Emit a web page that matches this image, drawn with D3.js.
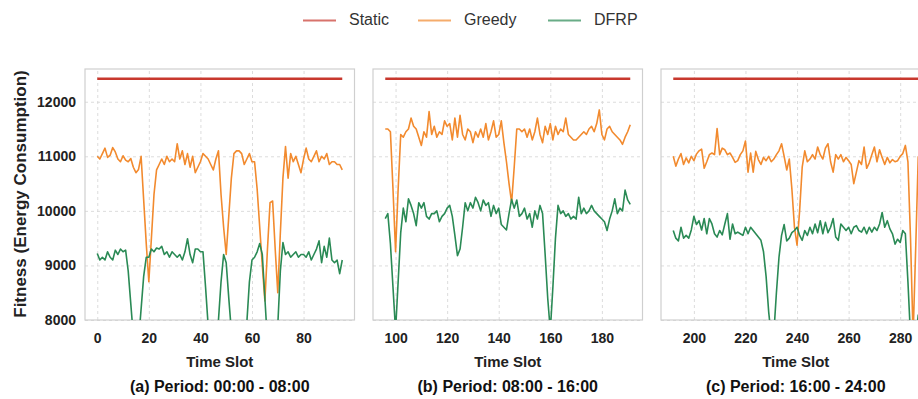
<!DOCTYPE html>
<html>
<head>
<meta charset="utf-8">
<script src="https://cdn.jsdelivr.net/npm/d3@7/dist/d3.min.js"></script>
<style>
  html, body { margin: 0; padding: 0; background: #ffffff; }
  svg { display: block; font-family: "Liberation Sans", Arial, sans-serif; }
</style>
</head>
<body>
<svg id="chart" width="918" height="399"></svg>
<script>
// ---------------- DATA ----------------
const seriesNames = ["Static", "Greedy", "DFRP"];
const periodCaptions = ["(a) Period: 00:00 - 08:00", "(b) Period: 08:00 - 16:00", "(c) Period: 16:00 - 24:00"];
const periodStartSlot = [0, 96, 192];
const xTickValues = [[0, 20, 40, 60, 80], [100, 120, 140, 160, 180], [200, 220, 240, 260, 280]];
const yTickValues = [8000, 9000, 10000, 11000, 12000];
const staticLevel = [12420, 12420, 12420];

const greedyA = [
  11000, 10950, 11050, 11150, 10980, 11020, 11160, 11080, 10950, 10900,
  11010, 10930, 10900, 10960, 10800, 10700, 10760, 11000, 10200, 9400,
  8700, 9500, 10300, 10750, 10850, 10950, 10850, 11000, 10900, 10950,
  10900, 11230, 10950, 11100, 10850, 11050, 10800, 11000, 10700, 10800,
  10900, 11050, 11000, 10950, 10850, 10750, 10950, 11100, 10300, 9700,
  9200, 9900, 10600, 11050, 11100, 11100, 11050, 10850, 10950, 11050,
  10900, 10900, 10400, 9700, 9000, 8350, 9300, 10150, 10180, 9300,
  8500, 9600, 10600, 11180, 10600, 11050, 10900, 11000, 10850, 10700,
  10950, 11150, 10950, 10900, 11000, 11100, 10900, 11000, 10950, 11050,
  10850, 10900, 10900, 10850, 10850, 10750
];
const dfrpA = [
  9220, 9100, 9150, 9100, 9250, 9150, 9100, 9280, 9200, 9300,
  9250, 9280, 8900, 8300, 7700, 7400, 7600, 8200, 8800, 9150,
  9150, 9300, 9250, 9320, 9300, 9350, 9200, 9250, 9150, 9250,
  9200, 9150, 9200, 9100, 9250, 9490, 9200, 9050, 9300, 9300,
  9250, 9250, 8600, 7900, 7400, 7300, 7400, 8000, 8700, 9200,
  9050, 8400, 7800, 7400, 7300, 7300, 7400, 7600, 7950, 8700,
  9100, 9150, 9250, 9400, 9200, 8400, 7600, 7300, 7300, 7500,
  7900, 8900, 9420, 9200, 9250, 9150, 9200, 9250, 9150, 9200,
  9200, 9150, 9250, 9100, 9200, 9300, 9450, 9050, 9350, 9150,
  9500, 9100, 9050, 9100, 8850, 9100
];
const greedyB = [
  11500, 11500, 11450, 10400, 9250, 10400, 11400, 11350, 11450, 11500,
  11700, 11550, 11500, 11350, 11200, 11450, 11350, 11820, 11400, 11550,
  11350, 11450, 11400, 11650, 11550, 11600, 11300, 11700, 11350, 11750,
  11400, 11300, 11500, 11450, 11250, 11450, 11350, 11500, 11350, 11600,
  11300, 11450, 11650, 11350, 11400, 11650, 11250, 10900, 10500, 10150,
  10800, 11500, 11500, 11450, 11500, 11350, 11500, 11300, 11450, 11700,
  11400, 11250, 11550, 11400, 11600, 11300, 11550, 11400, 11500, 11450,
  11700, 11400, 11350, 11300, 11300, 11350, 11400, 11450, 11400, 11500,
  11550, 11450, 11600, 11850, 11400, 11300, 11500, 11550, 11450, 11400,
  11350, 11300, 11220, 11350, 11450, 11580
];
const dfrpB = [
  9860, 9950, 9400, 8600, 7800, 8700, 9600, 10050, 9800, 10220,
  10100, 9950, 9730, 10150, 10050, 10150, 9900, 9850, 9950, 9950,
  10000, 9800, 9900, 9950, 10050, 10100, 9900, 9550, 9180, 9300,
  9700, 10150, 10000, 10150, 10050, 10250, 10150, 10000, 10200, 10100,
  10150, 9900, 10100, 9950, 10050, 9750, 9700, 9650, 9950, 10210,
  10050, 10200, 9900, 9950, 10050, 9850, 9950, 9700, 10000, 9850,
  10100, 9950, 9200, 8400, 7800, 8600, 9500, 10100, 9950, 10000,
  9900, 9950, 9850, 9900, 9850, 10250, 9950, 10050, 9950, 10000,
  10100, 10000, 9950, 9900, 9850, 9800, 9640, 9850, 10000, 10220,
  9950, 10050, 10000, 10380, 10200, 10120
];
const greedyC = [
  11000, 10820, 10950, 11050, 10850, 10970, 10880, 11000, 10920, 11040,
  11100, 11130, 10780, 10900, 11030, 11060, 11030, 11510, 11030, 11150,
  11120, 11030, 11060, 10980, 10890, 10920, 11030, 11100, 11280, 10710,
  11060, 10710, 11090, 10940, 10850, 10980, 10920, 11000, 10900, 10950,
  11030, 11100, 11230, 11000, 10750, 10950, 10400, 9700, 9370, 10000,
  10800, 11100, 10900, 10950, 11030, 10950, 11170, 11030, 10950, 11150,
  11230, 10900, 10710, 11030, 10950, 11030, 10900, 10980, 10920, 10850,
  10500, 10710, 10920, 10850, 11170, 10780, 10880, 11030, 11170, 10900,
  11120, 10980, 10850, 10980, 10880, 10940, 10900, 10920, 11000, 11050,
  11200, 10900, 9500, 7700, 9300, 11000
];
const dfrpC = [
  9640, 9500, 9450, 9700, 9500, 9550, 9500, 9650, 9900, 9750,
  9820, 9650, 9860, 9580, 9860, 9760, 9580, 9520, 9640, 9560,
  9760, 9950, 9480, 9760, 9580, 9610, 9580, 9550, 9700, 9580,
  9700, 9640, 9580, 9520, 9460, 9250, 8800, 8150, 7700, 7750,
  8500, 9150, 9550, 9750, 9450, 9500, 9600, 9640, 9700, 9550,
  9460, 9640, 9550, 9700, 9580, 9760, 9600, 9820, 9580, 9790,
  9600, 9700, 9860, 9520, 9460, 9760, 9700, 9640, 9700, 9580,
  9700, 9730, 9640, 9610, 9700, 9580, 9700, 9610, 9700, 9640,
  9760, 9970, 9700, 9820, 9670, 9580, 9390, 9480, 9420, 9640,
  9580, 8700, 7700, 7400, 7600, 8100
];
const greedySeries = [greedyA, greedyB, greedyC];
const dfrpSeries = [dfrpA, dfrpB, dfrpC];

// ---------------- STYLE / LAYOUT ----------------
const colors = { Static: "#c8382e", Greedy: "#f28a2e", DFRP: "#2a8a55" };
const panelLefts = [85, 373, 661];
const panelWidth = 269.5;
const plotTop = 69, plotBottom = 320;

const svg = d3.select("#chart");
svg.append("rect").attr("width", 918).attr("height", 399).attr("fill", "#ffffff");

const y = d3.scaleLinear().domain([8000, 12600]).range([plotBottom, plotTop]);

periodStartSlot.forEach((start, p) => {
  const n = greedySeries[p].length;
  const last = start + n - 1;
  const pad = (last - start) * 0.05;
  const x = d3.scaleLinear().domain([start - pad, last + pad])
    .range([panelLefts[p], panelLefts[p] + panelWidth]);

  const g = svg.append("g");
  const clipId = "clip" + p;
  svg.append("clipPath").attr("id", clipId).append("rect")
    .attr("x", panelLefts[p]).attr("y", plotTop)
    .attr("width", panelWidth).attr("height", plotBottom - plotTop);

  // grid
  const gridX = g.append("g").attr("transform", `translate(0,${plotBottom})`)
    .call(d3.axisBottom(x).tickValues(xTickValues[p]).tickSize(-(plotBottom - plotTop)).tickFormat(""));
  const gridY = g.append("g").attr("transform", `translate(${panelLefts[p]},0)`)
    .call(d3.axisLeft(y).tickValues(yTickValues).tickSize(-panelWidth).tickFormat(""));
  [gridX, gridY].forEach(gg => {
    gg.select(".domain").remove();
    gg.selectAll("line").attr("stroke", "#d8d8d8").attr("stroke-width", 0.9).attr("stroke-dasharray", "3,3");
  });

  // frame
  g.append("rect").attr("x", panelLefts[p]).attr("y", plotTop)
    .attr("width", panelWidth).attr("height", plotBottom - plotTop)
    .attr("fill", "none").attr("stroke", "#cfcfcf").attr("stroke-width", 1.2);

  const lines = g.append("g").attr("clip-path", `url(#${clipId})`);
  const line = d3.line().x((d, i) => x(start + i)).y(d => y(d));

  // static
  lines.append("path").datum([staticLevel[p], staticLevel[p]])
    .attr("d", d3.line().x((d, i) => x(i === 0 ? start : last)).y(d => y(d)))
    .attr("fill", "none").attr("stroke", colors.Static).attr("stroke-width", 2.4);
  lines.append("path").datum(greedySeries[p]).attr("d", line)
    .attr("fill", "none").attr("stroke", colors.Greedy).attr("stroke-width", 1.6).attr("stroke-linejoin", "round");
  lines.append("path").datum(dfrpSeries[p]).attr("d", line)
    .attr("fill", "none").attr("stroke", colors.DFRP).attr("stroke-width", 1.6).attr("stroke-linejoin", "round");

  // x tick labels
  const ax = g.append("g").attr("transform", `translate(0,${plotBottom})`)
    .call(d3.axisBottom(x).tickValues(xTickValues[p]).tickSize(0).tickPadding(13));
  ax.select(".domain").remove();
  ax.selectAll("text").attr("font-size", 14).attr("font-weight", "bold").attr("fill", "#222")
    .attr("font-family", "Liberation Sans, Arial, sans-serif");

  if (p === 0) {
    const ay = g.append("g").attr("transform", `translate(${panelLefts[p]},0)`)
      .call(d3.axisLeft(y).tickValues(yTickValues).tickSize(0).tickPadding(9).tickFormat(d3.format("d")));
    ay.select(".domain").remove();
    ay.selectAll("text").attr("font-size", 14).attr("font-weight", "bold").attr("fill", "#222")
      .attr("font-family", "Liberation Sans, Arial, sans-serif");
  }

  const cx = panelLefts[p] + panelWidth / 2;
  g.append("text").attr("x", cx).attr("y", 363).attr("text-anchor", "middle")
    .attr("dominant-baseline", "middle").attr("font-size", 15).attr("font-weight", "bold").attr("fill", "#222")
    .text("Time Slot");
  g.append("text").attr("x", cx).attr("y", 388).attr("text-anchor", "middle")
    .attr("dominant-baseline", "middle").attr("font-size", 16).attr("font-weight", "bold").attr("fill", "#111")
    .text(periodCaptions[p]);
});

// y label
svg.append("text").attr("transform", "translate(22,194) rotate(-90)")
  .attr("text-anchor", "middle").attr("dominant-baseline", "middle")
  .attr("font-size", 17).attr("font-weight", "bold").attr("fill", "#222")
  .text("Fitness (Energy Consumption)");

// legend
const legendX = [303, 418, 548];
const legend = svg.append("g");
seriesNames.forEach((name, i) => {
  legend.append("line").attr("x1", legendX[i]).attr("x2", legendX[i] + 33)
    .attr("y1", 20.5).attr("y2", 20.5).attr("stroke", colors[name])
    .attr("stroke-width", 2).attr("opacity", 0.7);
  legend.append("text").attr("x", legendX[i] + 46).attr("y", 20.5)
    .attr("dominant-baseline", "middle").attr("font-size", 16).attr("fill", "#333")
    .text(name);
});
</script>
</body>
</html>
